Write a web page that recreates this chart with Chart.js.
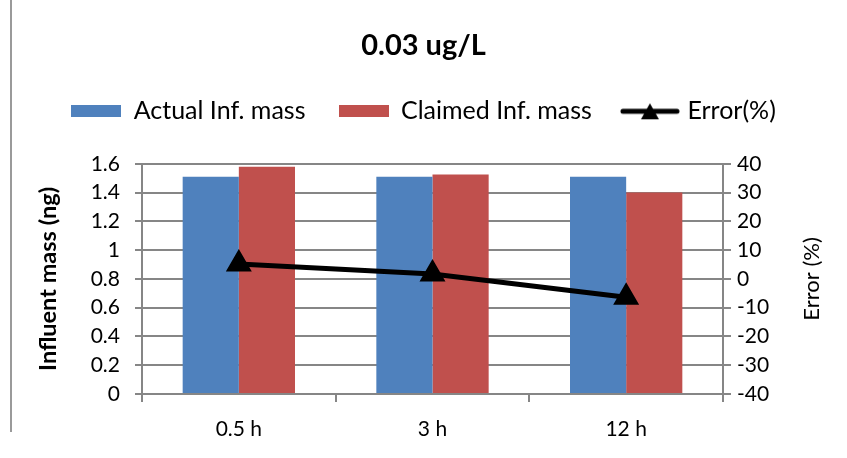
<!DOCTYPE html>
<html>
<head>
<meta charset="utf-8">
<script src="https://cdn.jsdelivr.net/npm/chart.js@4.4.1/dist/chart.umd.min.js"></script>
<style>
  html, body { margin: 0; padding: 0; background: #fff; }
  #wrap { width: 847px; height: 458px; position: relative; }
</style>
</head>
<body>
<div id="wrap"><canvas id="chart"></canvas></div>
<script>
// Values
const categories = ['0.5 h', '3 h', '12 h'];
const actualMass = [1.51, 1.51, 1.51];
const claimedMass = [1.58, 1.525, 1.40];
const errorPct = [5.2, 1.7, -6.4];
const massRange = [0, 1.6];
const massStep = 0.2;
const errorRange = [-40, 40];
const errorStep = 10;

const C = {
  blue: '#4F81BD',
  red: '#C0504D',
  ink: '#000000',
  grid: '#868686',
};
const FONT = "Lato, 'Open Sans', Arial, sans-serif";

// legend swatches drawn as small canvases
function swatch(color) {
  const c = document.createElement('canvas');
  c.width = 50; c.height = 12;
  const g = c.getContext('2d');
  g.fillStyle = color;
  g.fillRect(0, 0, 50, 12);
  return c;
}
function lineSwatch() {
  const c = document.createElement('canvas');
  c.width = 60; c.height = 18;
  const g = c.getContext('2d');
  g.strokeStyle = '#000'; g.lineWidth = 5; g.lineCap = 'round';
  g.beginPath(); g.moveTo(3, 9); g.lineTo(57, 9); g.stroke();
  g.fillStyle = '#000';
  g.beginPath(); g.moveTo(30, 1); g.lineTo(39, 17); g.lineTo(21, 17); g.closePath(); g.fill();
  return c;
}
const swatches = [swatch(C.blue), swatch(C.red), lineSwatch()];

// frame line on the left and the right-axis title (reads bottom to top)
const extras = {
  id: 'extras',
  afterDraw(chart) {
    const ctx = chart.ctx;
    ctx.save();
    ctx.strokeStyle = '#9a9a9a';
    ctx.lineWidth = 2;
    ctx.beginPath(); ctx.moveTo(11, 0); ctx.lineTo(11, 432); ctx.stroke();
    const a = chart.chartArea;
    ctx.translate(812, (a.top + a.bottom) / 2);
    ctx.rotate(-Math.PI / 2);
    ctx.fillStyle = C.ink;
    ctx.font = '22px ' + FONT;
    ctx.textAlign = 'center';
    ctx.textBaseline = 'middle';
    ctx.fillText('Error (%)', 0, 0);
    ctx.restore();
  }
};

new Chart(document.getElementById('chart'), {
  type: 'bar',
  data: {
    labels: categories,
    datasets: [
      { label: 'Actual Inf. mass', data: actualMass, backgroundColor: C.blue, yAxisID: 'y', order: 1 },
      { label: 'Claimed Inf. mass', data: claimedMass, backgroundColor: C.red, yAxisID: 'y', order: 1 },
      {
        type: 'line', label: 'Error(%)', data: errorPct, yAxisID: 'y1', order: 0,
        borderColor: '#000', backgroundColor: '#000', borderWidth: 5,
        pointStyle: 'triangle', pointRadius: 10, pointHoverRadius: 10,
      },
    ],
  },
  options: {
    responsive: true,
    maintainAspectRatio: false,
    animation: false,
    layout: { padding: { left: 0, right: 0, top: 0, bottom: 0 } },
    datasets: { bar: { categoryPercentage: 0.58, barPercentage: 1.0 } },
    scales: {
      x: {
        grid: { display: true, drawOnChartArea: false, drawTicks: true, tickLength: 8, color: C.grid, lineWidth: 2 },
        border: { color: C.grid, width: 2 },
        ticks: { color: C.ink, font: { family: FONT, size: 21 }, padding: 15 },
        afterFit: (s) => { s.height = 64; },
      },
      y: {
        position: 'left',
        min: massRange[0], max: massRange[1],
        ticks: {
          stepSize: massStep, color: C.ink, padding: 15,
          font: { family: FONT, size: 21 },
          callback: (v) => String(+v.toFixed(1)),
        },
        grid: { color: C.grid, lineWidth: 2, tickLength: 7 },
        border: { color: C.grid, width: 2 },
        title: {
          display: true, text: 'Influent mass (ng)', color: C.ink,
          font: { family: FONT, size: 23.5, weight: 'bold' },
          padding: { top: 34, bottom: 0 },
        },
        afterFit: (s) => { s.width = 142; },
      },
      y1: {
        position: 'right',
        min: errorRange[0], max: errorRange[1],
        ticks: { stepSize: errorStep, color: C.ink, padding: 6, font: { family: FONT, size: 21 } },
        grid: { drawOnChartArea: false, color: C.grid, lineWidth: 2, tickLength: 8 },
        border: { color: C.grid, width: 2 },
        afterFit: (s) => { s.width = 124; },
      },
    },
    plugins: {
      title: {
        display: true, text: '0.03 ug/L', color: C.ink,
        font: { family: FONT, size: 29, weight: 'bold' },
        padding: { top: 28, bottom: 3 },
      },
      // empty subtitle used as a spacer between legend and plot
      subtitle: {
        display: true, text: ' ', weight: 500,
        font: { size: 10, lineHeight: 1 },
        padding: { top: 20, bottom: 0 },
      },
      legend: {
        position: 'top',
        labels: {
          color: C.ink,
          font: { family: FONT, size: 25 },
          usePointStyle: true,
          pointStyleWidth: 50,
          boxHeight: 12,
          padding: 33,
          generateLabels: (chart) => chart.data.datasets.map((ds, i) => ({
            text: ds.label, pointStyle: swatches[i], fontColor: C.ink,
            fillStyle: ds.backgroundColor, strokeStyle: ds.borderColor, lineWidth: 0,
            hidden: false, datasetIndex: i,
          })),
        },
      },
      tooltip: { enabled: false },
    },
  },
  plugins: [extras],
});
</script>
</body>
</html>
